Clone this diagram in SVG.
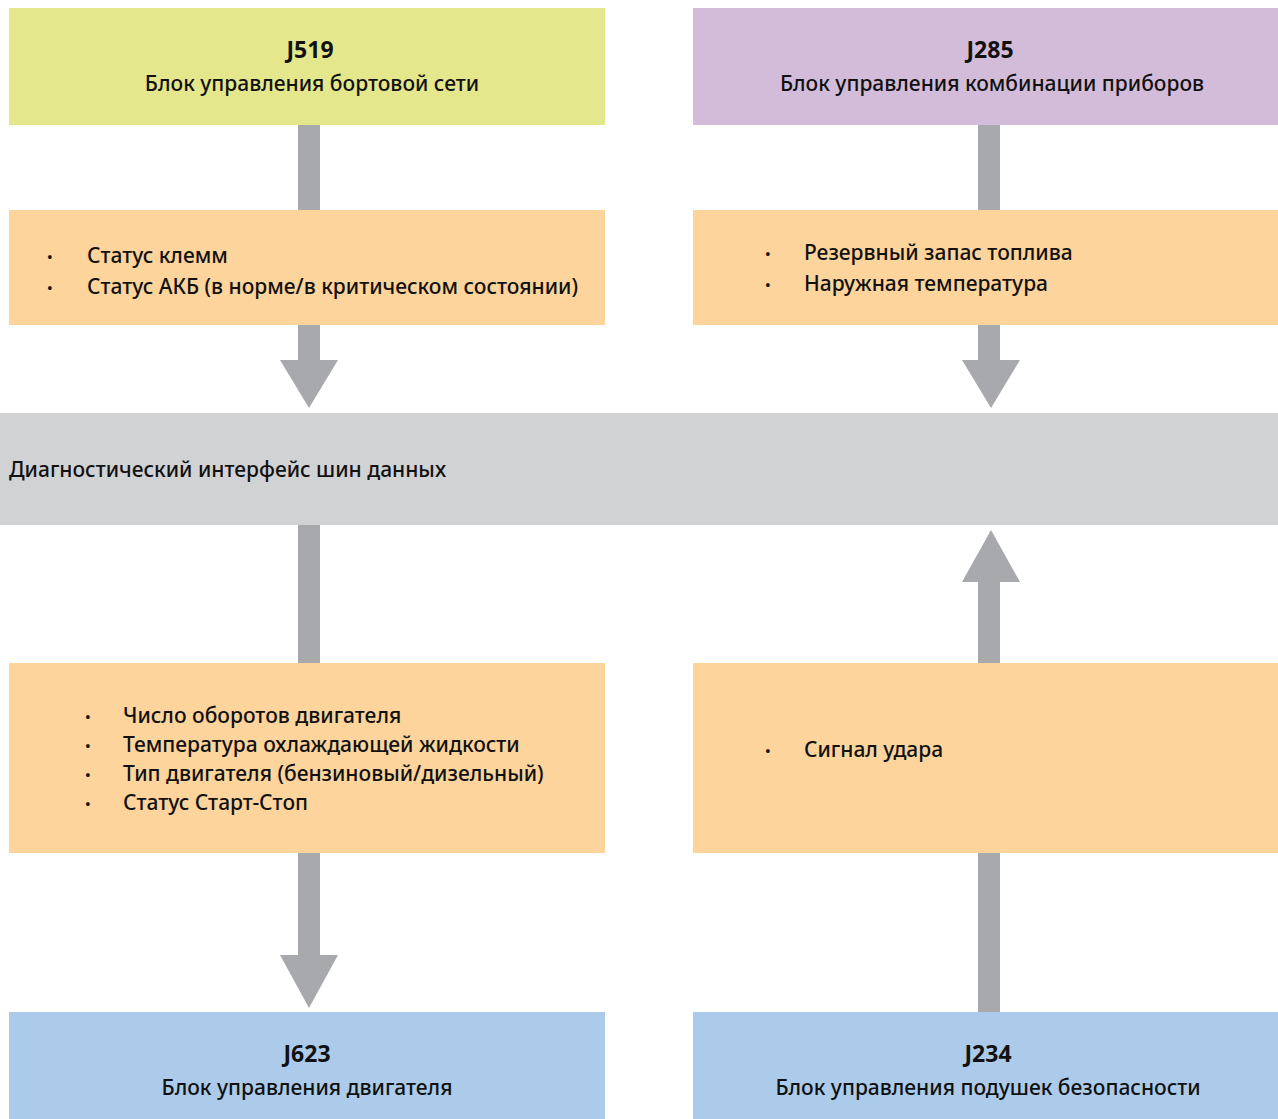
<svg xmlns="http://www.w3.org/2000/svg" width="1278" height="1119" viewBox="0 0 1278 1119">
<style>
text{font-family:"Noto Sans","Liberation Sans",sans-serif;font-size:21px;font-weight:500;fill:#111;}
.t{font-weight:700;font-size:23px;text-anchor:middle;}
.s{text-anchor:middle;}
.b{font-size:15px;}
.yel{fill:#E4E78B;}
.lav{fill:#D2BCDA;}
.org{fill:#FCD49C;}
.gry{fill:#D1D2D4;}
.blu{fill:#ACCBEA;}
.arr{fill:#A7A9AC;}
</style>
<rect width="1278" height="1119" fill="#ffffff"/>
<g id="connectors">
<rect class="arr" x="298" y="125" width="22" height="86"/>
<rect class="arr" x="298" y="325" width="22" height="36"/>
<polygon class="arr" points="280,360 338,360 309,408"/>
<rect class="arr" x="978" y="125" width="22" height="86"/>
<rect class="arr" x="978" y="325" width="22" height="36"/>
<polygon class="arr" points="962,360 1020,360 991,408"/>
<rect class="arr" x="298" y="525" width="22" height="139"/>
<rect class="arr" x="298" y="853" width="22" height="103"/>
<polygon class="arr" points="280,955 338,955 309,1008"/>
<polygon class="arr" points="962,582 1020,582 991,530"/>
<rect class="arr" x="978" y="581" width="22" height="83"/>
<rect class="arr" x="978" y="853" width="22" height="160"/>
</g>
<g id="j519">
<rect class="yel" x="9" y="8" width="596" height="117"/>
<text class="t" x="310" y="58">J519</text>
<text class="s" x="312" y="91">Блок управления бортовой сети</text>
</g>
<g id="j285">
<rect class="lav" x="693" y="8" width="585" height="117"/>
<text class="t" x="990" y="58">J285</text>
<text class="s" x="992" y="91">Блок управления комбинации приборов</text>
</g>
<g id="info-j519">
<rect class="org" x="9" y="210" width="596" height="115"/>
<text class="b" x="47" y="262">•</text>
<text x="87" y="263">Статус клемм</text>
<text class="b" x="47" y="293">•</text>
<text x="87" y="294">Статус АКБ (в норме/в критическом состоянии)</text>
</g>
<g id="info-j285">
<rect class="org" x="693" y="210" width="585" height="115"/>
<text class="b" x="765" y="259">•</text>
<text x="804" y="260">Резервный запас топлива</text>
<text class="b" x="765" y="290">•</text>
<text x="804" y="291">Наружная температура</text>
</g>
<g id="bus">
<rect class="gry" x="0" y="413" width="1278" height="112"/>
<text x="9" y="477">Диагностический интерфейс шин данных</text>
</g>
<g id="info-j623">
<rect class="org" x="9" y="663" width="596" height="190"/>
<text class="b" x="85" y="722">•</text>
<text x="123" y="723">Число оборотов двигателя</text>
<text class="b" x="85" y="751">•</text>
<text x="123" y="752">Температура охлаждающей жидкости</text>
<text class="b" x="85" y="780">•</text>
<text x="123" y="781">Тип двигателя (бензиновый/дизельный)</text>
<text class="b" x="85" y="809">•</text>
<text x="123" y="810">Статус Старт-Стоп</text>
</g>
<g id="info-j234">
<rect class="org" x="693" y="663" width="585" height="190"/>
<text class="b" x="765" y="756">•</text>
<text x="804" y="757">Сигнал удара</text>
</g>
<g id="j623">
<rect class="blu" x="9" y="1012" width="596" height="107"/>
<text class="t" x="307" y="1062">J623</text>
<text class="s" x="307" y="1095">Блок управления двигателя</text>
</g>
<g id="j234">
<rect class="blu" x="693" y="1012" width="585" height="107"/>
<text class="t" x="988" y="1062">J234</text>
<text class="s" x="988" y="1095">Блок управления подушек безопасности</text>
</g>
</svg>
